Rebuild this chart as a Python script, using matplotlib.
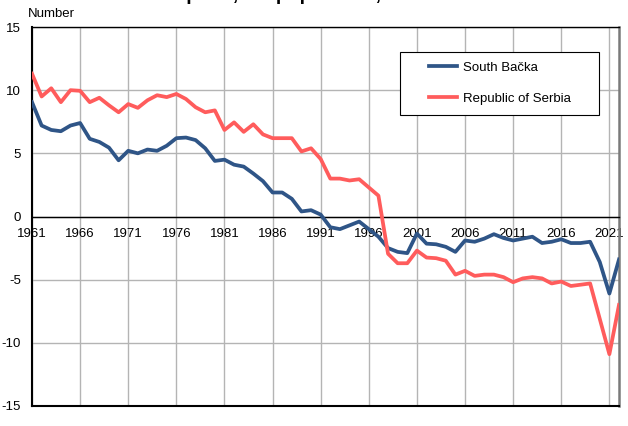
import matplotlib
matplotlib.use("Agg")
import matplotlib.pyplot as plt
from matplotlib.path import Path
import numpy as np

plt.rcParams['font.family'] = ['Liberation Sans', 'DejaVu Sans']

years = list(range(1961, 2023))
south_backa = [9.05, 7.2, 6.85, 6.75, 7.2, 7.4, 6.15, 5.9, 5.45, 4.45,
               5.2, 5.0, 5.3, 5.2, 5.6, 6.2, 6.25, 6.05, 5.4, 4.4,
               4.5, 4.1, 3.95, 3.4, 2.8, 1.9, 1.9, 1.4, 0.4, 0.5,
               0.15, -0.85, -1.0, -0.7, -0.4, -1.0, -1.6, -2.5, -2.8, -2.9,
               -1.35, -2.15, -2.2, -2.4, -2.8, -1.9, -2.0, -1.75, -1.4, -1.7,
               -1.9, -1.75, -1.6, -2.1, -2.0, -1.8, -2.1, -2.1, -2.0, -3.6,
               -6.1, -3.4]
serbia = [11.3, 9.5, 10.15, 9.05, 10.0, 9.95, 9.05, 9.4, 8.8, 8.25,
          8.9, 8.6, 9.2, 9.6, 9.45, 9.7, 9.3, 8.65, 8.25, 8.4,
          6.85, 7.45, 6.7, 7.3, 6.5, 6.2, 6.2, 6.2, 5.15, 5.4,
          4.55, 3.0, 3.0, 2.85, 2.95, 2.3, 1.65, -2.95, -3.7, -3.7,
          -2.7, -3.25, -3.3, -3.5, -4.6, -4.3, -4.7, -4.6, -4.6, -4.8,
          -5.2, -4.9, -4.8, -4.9, -5.3, -5.15, -5.5, -5.4, -5.3, -8.1,
          -10.9, -7.0]
series_names = ['South Bačka', 'Republic of Serbia']
x_ticks = list(range(1961, 2022, 5))
y_ticks = [-15, -10, -5, 0, 5, 10, 15]
title = 'Natural increase per 1,000 population, 1961–2022'
y_label = 'Number'

blue = '#2F5587'
red = '#FF5C5C'
fs = 9.5

fig = plt.figure(figsize=(6.28, 4.26), dpi=100)
ax = fig.add_axes([32/628, 20/426, 587/628, 379/426])

ax.plot(years, south_backa, color=blue, lw=2.7, label=series_names[0], solid_joinstyle='round', zorder=3)
ax.plot(years, serbia, color=red, lw=2.7, label=series_names[1], solid_joinstyle='round', zorder=3)

ax.set_xlim(1961, 2022)
ax.set_ylim(-15, 15)
ax.set_xticks(x_ticks)
ax.set_xticklabels([str(t) for t in x_ticks])
ax.set_yticks(y_ticks)
ax.set_yticklabels([str(t) for t in y_ticks])
ax.grid(True, color='#b4b4b4', lw=1.0)
ax.set_axisbelow(True)

ax.spines['bottom'].set_position(('data', 0))
ax.spines['bottom'].set_color('black')
ax.spines['bottom'].set_linewidth(1.0)
ax.spines['left'].set_linewidth(1.5)
ax.spines['top'].set_linewidth(1.0)
ax.spines['right'].set_color('#7a7a7a')
ax.spines['right'].set_linewidth(1.8)
ax.axhline(-15, color='black', lw=1.5, clip_on=False, zorder=2.6)

ax.tick_params(axis='x', length=0, pad=8, labelsize=fs)
ax.tick_params(axis='y', length=0, pad=8, labelsize=fs)

fig.text(28/628, 1 - 17/426, y_label, fontsize=fs, va='baseline', ha='left')
fig.text(29/628, 1.0, title, fontsize=14, fontweight='bold', va='baseline', ha='left')

leg = ax.legend(loc='upper right', bbox_to_anchor=((580-32)/587, (406-52)/379),
                borderaxespad=0, fontsize=fs, frameon=True, fancybox=False,
                edgecolor='black', framealpha=1, borderpad=0.72,
                labelspacing=1.45, handlelength=2.1, handletextpad=0.45)
leg.get_frame().set_linewidth(0.8)

padx_px = 19

def wide_box(x0, y0, width, height, mutation_size):
    x0 = x0 - padx_px
    width = width + 2 * padx_px
    return Path([(x0, y0), (x0 + width, y0), (x0 + width, y0 + height),
                 (x0, y0 + height), (x0, y0)], closed=True)

leg.get_frame().set_boxstyle(wide_box)

fig.savefig('out.png', dpi=100)
